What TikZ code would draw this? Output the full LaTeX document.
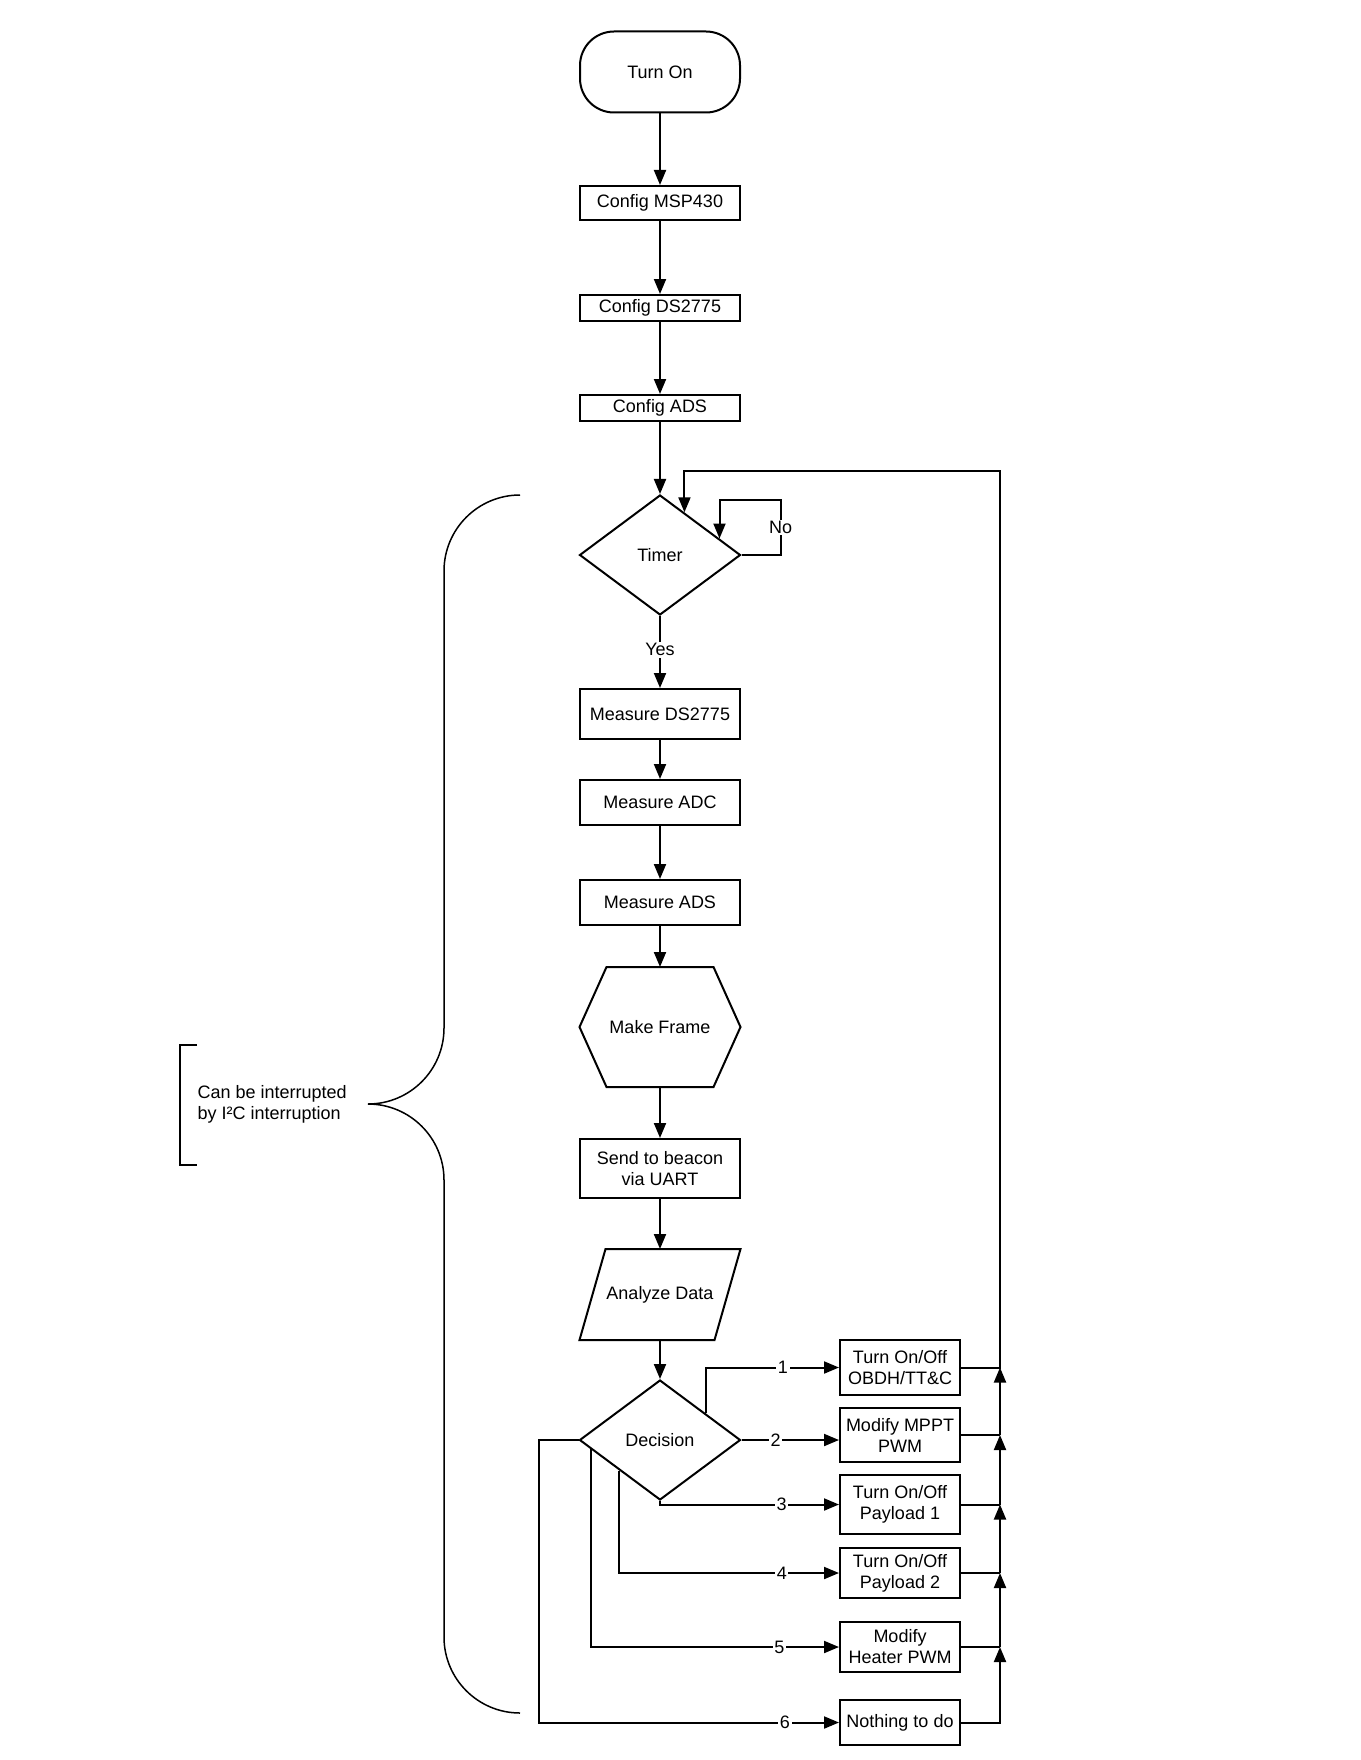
\documentclass[tikz,border=0pt]{standalone}
\usepackage{fontspec}
\setmainfont{Liberation Sans}
\usetikzlibrary{shapes.geometric,arrows.meta,calc}

\begin{document}
\begin{tikzpicture}[
x=0.5pt, y=-0.5pt,
line width=1pt,
>={Triangle[length=7.5pt,width=6pt]},
font=\fontsize{9pt}{10.5pt}\selectfont,
startnode/.style={rectangle, rounded corners=17pt, draw=black, minimum width=80pt, minimum height=40.5pt},
boxnode/.style={rectangle, draw=black, minimum width=80pt, align=center, inner sep=1pt},
choicenode/.style={rectangle, draw=black, minimum width=60pt, align=center, inner sep=1pt},
decnode/.style={diamond, draw=black, minimum width=80.5pt, minimum height=60pt, inner sep=0pt},
shapenode/.style={rectangle, minimum width=80.5pt, outer sep=0pt},
lbl/.style={fill=white, inner sep=0.8pt},
]
\useasboundingbox (0,0) rectangle (1360,1760);
%Nodes
\node[startnode]                          at (660,72)     (turnon)   {Turn On};
\node[boxnode, minimum height=17pt]       at (660,203)    (cfgmsp)   {Config MSP430};
\node[boxnode, minimum height=13pt]       at (660,308)    (cfgds)    {Config DS2775};
\node[boxnode, minimum height=13pt]       at (660,408)    (cfgads)   {Config ADS};
\node[decnode]                            at (660,555)    (timer)    {Timer};
\node[boxnode, minimum height=25pt]       at (660,714)    (measds)   {Measure DS2775};
\node[boxnode, minimum height=22.5pt]     at (660,802.5)  (measadc)  {Measure ADC};
\node[boxnode, minimum height=22.5pt]     at (660,902.5)  (measads)  {Measure ADS};
\node[shapenode, minimum height=60pt]     at (660,1027)   (mkframe)  {Make Frame};
\node[boxnode, minimum height=29.5pt]     at (660,1168.5) (beacon)   {Send to beacon\\via UART};
\node[shapenode, minimum height=45.5pt]   at (660,1294.5) (analyze)  {Analyze Data};
\node[decnode]                            at (660,1440)   (decision) {Decision};
\node[choicenode, minimum height=27.5pt]  at (900,1367.5) (obdh)     {Turn On/Off\\OBDH/TT\&C};
\node[choicenode, minimum height=27pt]    at (900,1435)   (mppt)     {Modify MPPT\\PWM};
\node[choicenode, minimum height=29.5pt]  at (900,1504.5) (pay1)     {Turn On/Off\\Payload 1};
\node[choicenode, minimum height=25pt]    at (900,1573)   (pay2)     {Turn On/Off\\Payload 2};
\node[choicenode, minimum height=25pt]    at (900,1647)   (heater)   {Modify\\Heater PWM};
\node[choicenode, minimum height=22.5pt]  at (900,1722.5) (nothing)  {Nothing to do};
\node[align=left, anchor=west]            at (190,1104)   (note)     {Can be interrupted\\by I²C interruption};
\coordinate (bustop) at (1000,471);

%Shapes
\draw (mkframe.west) -- ($(mkframe.north west)+(27,0)$) -- ($(mkframe.north east)+(-27,0)$)
  -- (mkframe.east) -- ($(mkframe.south east)+(-27,0)$) -- ($(mkframe.south west)+(27,0)$) -- cycle;
\draw (analyze.south west) -- ($(analyze.north west)+(26,0)$) -- (analyze.north east)
  -- ($(analyze.south east)+(-26,0)$) -- cycle;
\draw[line width=0.75pt, rounded corners=38pt] (520,495) -- (444,495) -- (444,1104) -- (368,1104);
\draw[line width=0.75pt, rounded corners=38pt] (368,1104) -- (444,1104) -- (444,1713) -- (520,1713);
\draw (197,1045) -- (180,1045) -- (180,1165) -- (197,1165);

%Lines
\path[->,draw] (turnon) edge (cfgmsp);
\path[->,draw] (cfgmsp) edge (cfgds);
\path[->,draw] (cfgds) edge (cfgads);
\path[->,draw] (cfgads) edge (timer);
\path[->,draw] (timer) edge node[lbl, pos=0.47] {Yes} (measds);
\draw[->] (timer.east) -- ++(39,0) -- ++(0,-55) node[lbl, midway] {No} -| ($(timer.north)!0.73!(timer.east)$);
\path[->,draw] (measds) edge (measadc);
\path[->,draw] (measadc) edge (measads);
\path[->,draw] (measads) edge (mkframe);
\path[->,draw] (mkframe) edge (beacon);
\path[->,draw] (beacon) edge (analyze);
\path[->,draw] (analyze) edge (decision);
\draw[->] ($(decision.north)!0.56!(decision.east)$) |- node[lbl, pos=0.79] {1} (obdh.west);
\draw[->] (decision.east) -- node[lbl, pos=0.35] {2} (mppt.west |- decision.east);
\draw[->] (decision.south) |- node[lbl, pos=0.84] {3} (pay1.west);
\draw[->] ($(decision.west)!0.5!(decision.south)$) |- node[lbl, pos=0.87] {4} (pay2.west);
\draw[->] ($(decision.west)!0.15!(decision.south)$) |- node[lbl, pos=0.88] {5} (heater.west);
\draw[->] (decision.west) -- ++(-40,0) |- node[lbl, pos=0.91] {6} (nothing.west);
\draw[->] (nothing.east) -| (heater.east -| bustop);
\draw (heater.east) -- (heater.east -| bustop);
\draw[->] (heater.east -| bustop) -- (pay2.east -| bustop);
\draw (pay2.east) -- (pay2.east -| bustop);
\draw[->] (pay2.east -| bustop) -- (pay1.east -| bustop);
\draw (pay1.east) -- (pay1.east -| bustop);
\draw[->] (pay1.east -| bustop) -- (mppt.east -| bustop);
\draw (mppt.east) -- (mppt.east -| bustop);
\draw[->] (mppt.east -| bustop) -- (obdh.east -| bustop);
\draw[->] (obdh.east) -| (bustop) -| ($(timer.north)!0.3!(timer.east)$);
\end{tikzpicture}
\end{document}
